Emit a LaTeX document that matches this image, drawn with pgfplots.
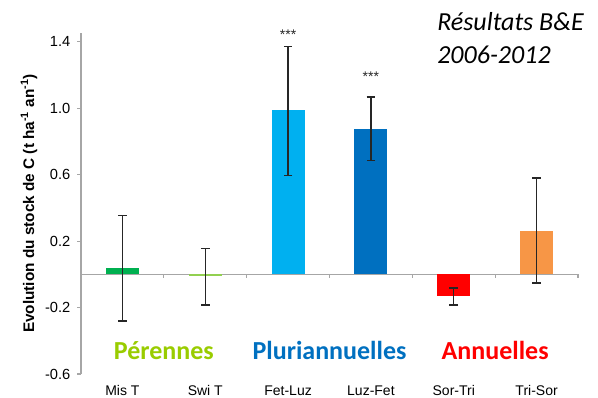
\documentclass[border=0pt]{standalone}
\usepackage{pgfplots}
\pgfplotsset{compat=1.18}
\usepackage{fontspec}
\setmainfont{Liberation Sans}
\newfontfamily\calibri{Carlito}
\definecolor{cMis}{HTML}{00B050}
\definecolor{cSwi}{HTML}{92D050}
\definecolor{cFet}{HTML}{00B0F0}
\definecolor{cLuz}{HTML}{0070C0}
\definecolor{cSor}{HTML}{FF0000}
\definecolor{cTri}{HTML}{F79646}
\definecolor{cPer}{HTML}{99CC00}
\definecolor{axgray}{HTML}{A6A6A6}
\definecolor{errc}{HTML}{262626}
\begin{document}
\begin{tikzpicture}
\useasboundingbox (-60.75pt,-18pt) rectangle (387.75pt,280.5pt);
\begin{axis}[
  at={(0,0)}, anchor=south west,
  scale only axis, width=372.75pt, height=255.75pt,
  xmin=-0.5, xmax=5.5, ymin=-0.6, ymax=1.453,
  axis y line*=left, axis x line*=bottom,
  x axis line style={draw=none},
  y axis line style={draw=axgray, line width=0.8pt},
  xtick={0,1,2,3,4,5},
  xticklabels={Mis T,Swi T,Fet-Luz,Luz-Fet,Sor-Tri,Tri-Sor},
  xtick style={draw=none},
  ytick={-0.6,-0.2,0.2,0.6,1.0,1.4},
  ytick style={draw=axgray, line width=0.8pt},
  tick align=outside, major tick length=3pt,
  yticklabel style={font=\fontsize{11}{13}\selectfont, xshift=-1.5pt, /pgf/number format/.cd, fixed, fixed zerofill, precision=1, assume math mode=true},
  ticklabel style={text=black},
  xticklabel style={font=\fontsize{10.5}{12}\selectfont, yshift=-2pt},
  ylabel={\bfseries Evolution du stock de C (t ha\textsuperscript{-1} an\textsuperscript{-1})},
  ylabel style={font=\fontsize{11.5}{13}\selectfont, yshift=-1pt},
  ybar, bar width=24.75pt, bar shift=0pt,
  clip=false,
  error bars/y dir=both, error bars/y explicit,
  error bars/error bar style={draw=errc, line width=1.1pt},
  error bars/error mark options={rotate=90, mark size=3.2pt, draw=errc, line width=1.1pt},
]
\draw[axgray, line width=0.8pt] (axis cs:-0.5,0) -- (axis cs:5.5,0);
\pgfplotsinvokeforeach{0.5,1.5,2.5,3.5,4.5,5.5}{
  \draw[axgray, line width=0.8pt] (axis cs:#1,0) -- ([yshift=-3pt]axis cs:#1,0);
}
\addplot[fill=cMis, draw=none] coordinates {(0,0.04) += (0,0.314) -= (0,0.32)};
\addplot[fill=cSwi, draw=none] coordinates {(1,-0.01) += (0,0.164) -= (0,0.176)};
\addplot[fill=cFet, draw=none] coordinates {(2,0.99) += (0,0.383) -= (0,0.395)};
\addplot[fill=cLuz, draw=none] coordinates {(3,0.877) += (0,0.19) -= (0,0.192)};
\addplot[fill=cSor, draw=none] coordinates {(4,-0.13) += (0,0.048) -= (0,0.054)};
\addplot[fill=cTri, draw=none] coordinates {(5,0.26) += (0,0.32) -= (0,0.312)};
\node[font=\fontsize{10.5}{11}\selectfont, text=errc] at (axis cs:2,1.44) {***};
\node[font=\fontsize{10.5}{11}\selectfont, text=errc] at (axis cs:3,1.19) {***};
\coordinate (g1) at (axis cs:0.5,-0.515);
\coordinate (g2) at (axis cs:2.5,-0.515);
\coordinate (g3) at (axis cs:4.5,-0.515);
\end{axis}
\node[anchor=base, font=\calibri\bfseries\fontsize{19.5}{22}\selectfont, text=cPer] at (g1) {Pérennes};
\node[anchor=base, font=\calibri\bfseries\fontsize{19.5}{22}\selectfont, text=cLuz] at (g2) {Pluriannuelles};
\node[anchor=base, font=\calibri\bfseries\fontsize{19.5}{22}\selectfont, text=cSor] at (g3) {Annuelles};
\node[anchor=base west, inner sep=0pt, font=\calibri\itshape\fontsize{19.5}{24}\selectfont] at (267pt,257.25pt) {Résultats B\&E};
\node[anchor=base west, inner sep=0pt, font=\calibri\itshape\fontsize{19.5}{24}\selectfont] at (267pt,232.5pt) {2006-2012};
\end{tikzpicture}
\end{document}
